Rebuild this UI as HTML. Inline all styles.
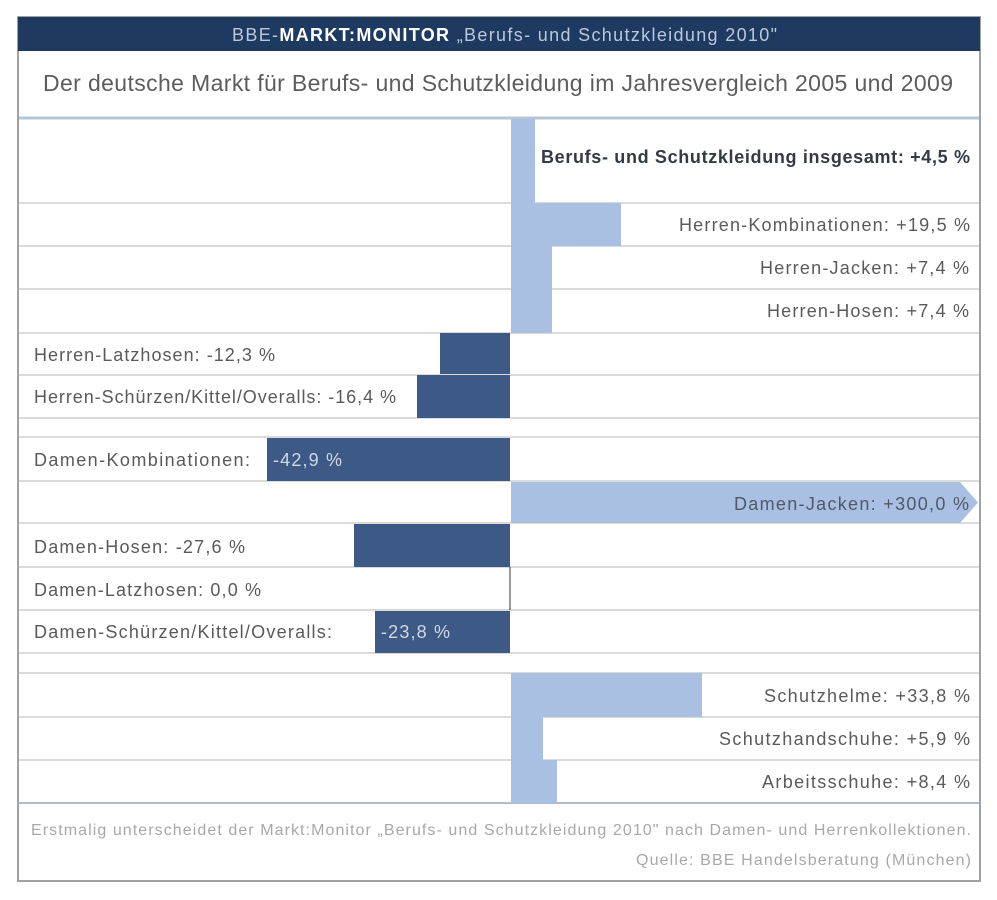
<!DOCTYPE html>
<html>
<head>
<meta charset="utf-8">
<style>
html,body{margin:0;padding:0;background:#fff;}
svg{display:block;}
text{font-family:"Liberation Sans",Arial,sans-serif;}
</style>
</head>
<body>
<svg width="997" height="900" viewBox="0 0 997 900" xmlns="http://www.w3.org/2000/svg">
  <rect x="0" y="0" width="997" height="900" fill="#ffffff"/>
  <!-- frame -->
  <rect x="18" y="17" width="962" height="864" fill="#ffffff" stroke="#a2a2a2" stroke-width="2"/>
  <!-- header -->
  <rect x="18" y="17" width="962" height="34" fill="#1f3a61"/>
  <text x="232" y="41" font-size="18" textLength="545" lengthAdjust="spacing" fill="#b9c8dc">BBE-<tspan font-weight="bold" fill="#ffffff">MARKT:MONITOR</tspan> „Berufs- und Schutzkleidung 2010"</text>
  <!-- title -->
  <text x="43" y="91" font-size="23" textLength="910" lengthAdjust="spacing" fill="#5c5c5c">Der deutsche Markt für Berufs- und Schutzkleidung im Jahresvergleich 2005 und 2009</text>
  <line x1="19" y1="118" x2="979" y2="118" stroke="#b6c5d7" stroke-width="3"/>

  <!-- row separators -->
  <g stroke="#dadada" stroke-width="2">
    <line x1="19" y1="203" x2="979" y2="203"/>
    <line x1="19" y1="246" x2="979" y2="246"/>
    <line x1="19" y1="289" x2="979" y2="289"/>
    <line x1="19" y1="333" x2="979" y2="333"/>
    <line x1="19" y1="375" x2="979" y2="375"/>
    <line x1="19" y1="418" x2="979" y2="418"/>
    <line x1="19" y1="437" x2="979" y2="437"/>
    <line x1="19" y1="481" x2="979" y2="481"/>
    <line x1="19" y1="523" x2="979" y2="523"/>
    <line x1="19" y1="567" x2="979" y2="567"/>
    <line x1="19" y1="610" x2="979" y2="610"/>
    <line x1="19" y1="653" x2="979" y2="653"/>
    <line x1="19" y1="673" x2="979" y2="673"/>
    <line x1="19" y1="717" x2="979" y2="717"/>
    <line x1="19" y1="760" x2="979" y2="760"/>
  </g>
  <line x1="19" y1="803" x2="979" y2="803" stroke="#aebccd" stroke-width="2"/>

  <!-- positive bars -->
  <g fill="#a9c0e2">
    <rect x="511" y="119" width="24" height="84"/>
    <rect x="511" y="203" width="110" height="43"/>
    <rect x="511" y="246" width="41" height="43"/>
    <rect x="511" y="289" width="41" height="44"/>
    <path d="M511 482 L960 482 L978 502.5 L960 523 L511 523 Z"/>
    <rect x="511" y="673" width="191" height="44"/>
    <rect x="511" y="717" width="32" height="43"/>
    <rect x="511" y="760" width="46" height="43"/>
  </g>

  <!-- negative bars -->
  <g fill="#3d5a86">
    <rect x="440" y="333" width="70" height="41"/>
    <rect x="417" y="375" width="93" height="43"/>
    <rect x="267" y="438" width="243" height="43"/>
    <rect x="354" y="524" width="156" height="43"/>
    <rect x="375" y="611" width="135" height="42"/>
  </g>
  <line x1="510" y1="567" x2="510" y2="610" stroke="#555" stroke-width="1.2"/>

  <!-- right labels -->
  <g font-size="18" fill="#5a5a5a">
    <text x="541" y="163" font-weight="bold" fill="#333a44" textLength="429" lengthAdjust="spacing">Berufs- und Schutzkleidung insgesamt: +4,5 %</text>
    <text x="679" y="231" textLength="291" lengthAdjust="spacing">Herren-Kombinationen: +19,5 %</text>
    <text x="760" y="274" textLength="209" lengthAdjust="spacing">Herren-Jacken: +7,4 %</text>
    <text x="767" y="317" textLength="202" lengthAdjust="spacing">Herren-Hosen: +7,4 %</text>
    <text x="734" y="510" textLength="235" lengthAdjust="spacing" fill="#4e5a6c">Damen-Jacken: +300,0 %</text>
    <text x="764" y="702" textLength="206" lengthAdjust="spacing">Schutzhelme: +33,8 %</text>
    <text x="719" y="745" textLength="251" lengthAdjust="spacing">Schutzhandschuhe: +5,9 %</text>
    <text x="762" y="788" textLength="208" lengthAdjust="spacing">Arbeitsschuhe: +8,4 %</text>
  </g>

  <!-- left labels -->
  <g font-size="18" fill="#5a5a5a">
    <text x="34" y="361" textLength="241" lengthAdjust="spacing">Herren-Latzhosen: -12,3 %</text>
    <text x="34" y="403" textLength="362" lengthAdjust="spacing">Herren-Schürzen/Kittel/Overalls: -16,4 %</text>
    <text x="34" y="466" textLength="216" lengthAdjust="spacing">Damen-Kombinationen:</text>
    <text x="273" y="466" textLength="69" lengthAdjust="spacing" fill="#cfd8e6">-42,9 %</text>
    <text x="34" y="553" textLength="211" lengthAdjust="spacing">Damen-Hosen: -27,6 %</text>
    <text x="34" y="596" textLength="227" lengthAdjust="spacing">Damen-Latzhosen: 0,0 %</text>
    <text x="34" y="638" textLength="298" lengthAdjust="spacing">Damen-Schürzen/Kittel/Overalls:</text>
    <text x="381" y="638" textLength="69" lengthAdjust="spacing" fill="#cfd8e6">-23,8 %</text>
  </g>

  <!-- footer -->
  <g font-size="16" fill="#a8a8a8">
    <text x="31" y="835" textLength="940" lengthAdjust="spacing">Erstmalig unterscheidet der Markt:Monitor „Berufs- und Schutzkleidung 2010" nach Damen- und Herrenkollektionen.</text>
    <text x="636" y="865" textLength="335" lengthAdjust="spacing">Quelle: BBE Handelsberatung (München)</text>
  </g>
</svg>
</body>
</html>
